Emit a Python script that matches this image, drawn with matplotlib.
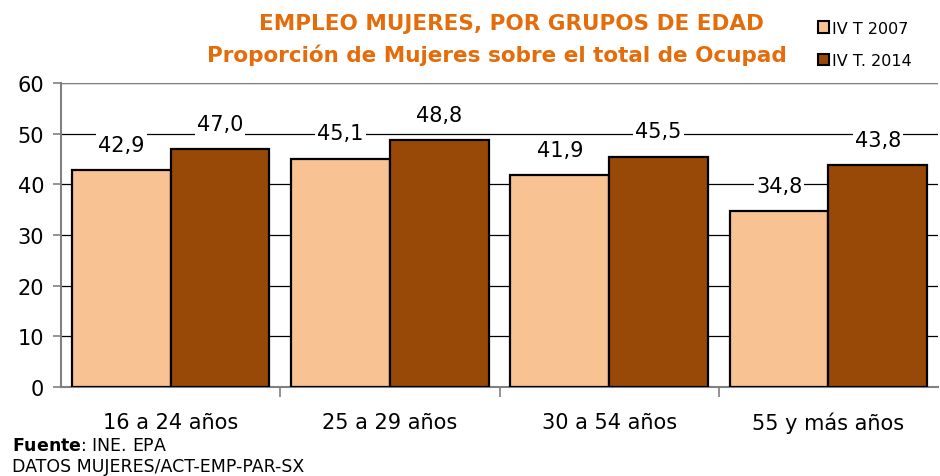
import numpy as np
import matplotlib.pyplot as plt
from matplotlib.patches import Patch

categories = ["16 a 24 años", "25 a 29 años", "30 a 54 años", "55 y más años"]
serie_2007 = [42.9, 45.1, 41.9, 34.8]
serie_2014 = [47.0, 48.8, 45.5, 43.8]
series_names = ["IV T 2007", "IV T. 2014"]

c_light = "#F9C293"
c_dark = "#984807"
c_title = "#E46C0A"

fig = plt.figure(figsize=(9.4, 4.77), dpi=100)
ax = fig.add_axes([0.0649, 0.1866, 0.933, 0.637])

x = np.arange(len(categories))
w = 0.45
b1 = ax.bar(x - w / 2, serie_2007, w, color=c_light, edgecolor="black", linewidth=1.6, zorder=3)
b2 = ax.bar(x + w / 2, serie_2014, w, color=c_dark, edgecolor="black", linewidth=1.6, zorder=3)

for bars, vals in ((b1, serie_2007), (b2, serie_2014)):
    for r, v in zip(bars, vals):
        ax.text(r.get_x() + r.get_width() / 2, v + 3.0, f"{v:.1f}".replace(".", ","),
                ha="center", va="bottom", fontsize=15,
                bbox=dict(facecolor="white", edgecolor="none", pad=1.5), zorder=4)

ax.set_xlim(-0.5, len(categories) - 0.5)
ax.set_ylim(0, 60)
ax.set_yticks(range(0, 61, 10))
ax.tick_params(axis="y", labelsize=15, length=6, width=1.2, color="#808080", pad=6)
ax.yaxis.grid(True, color="black", linewidth=0.9, zorder=0)
ax.set_axisbelow(True)

ax.set_xticks(x)
ax.set_xticklabels(categories, fontsize=15)
ax.tick_params(axis="x", length=0, pad=18)
ax.set_xticks(np.arange(0.5, len(categories) - 0.5, 1), minor=True)
ax.tick_params(axis="x", which="minor", length=7, width=1.2, color="#808080")

for s in ("top", "right"):
    ax.spines[s].set_visible(False)
ax.spines["left"].set_color("#808080")
ax.spines["left"].set_linewidth(1.5)
ax.spines["bottom"].set_color("#808080")
ax.spines["bottom"].set_linewidth(1.5)
ax.axhline(60, color="#808080", linewidth=1.5, zorder=1)

fig.text(0.544, 0.950, "EMPLEO MUJERES, POR GRUPOS DE EDAD", ha="center", va="center",
         fontsize=15.5, fontweight="bold", color=c_title)
fig.text(0.529, 0.884, "Proporción de Mujeres sobre el total de Ocupad", ha="center", va="center",
         fontsize=15.5, fontweight="bold", color=c_title)

handles = [Patch(facecolor=c_light, edgecolor="black", linewidth=1.5),
           Patch(facecolor=c_dark, edgecolor="black", linewidth=1.5)]
fig.legend(handles, series_names, loc="upper left", bbox_to_anchor=(0.855, 0.985),
           frameon=False, fontsize=11.5, handlelength=0.7, handleheight=0.7,
           handletextpad=0.2, labelspacing=1.1)

fig.text(0.013, 0.066, r"$\bf{Fuente}$: INE. EPA", fontsize=12.5, va="center")
fig.text(0.013, 0.020, "DATOS MUJERES/ACT-EMP-PAR-SX", fontsize=12.5, va="center")

fig.savefig("out.png", dpi=100)
